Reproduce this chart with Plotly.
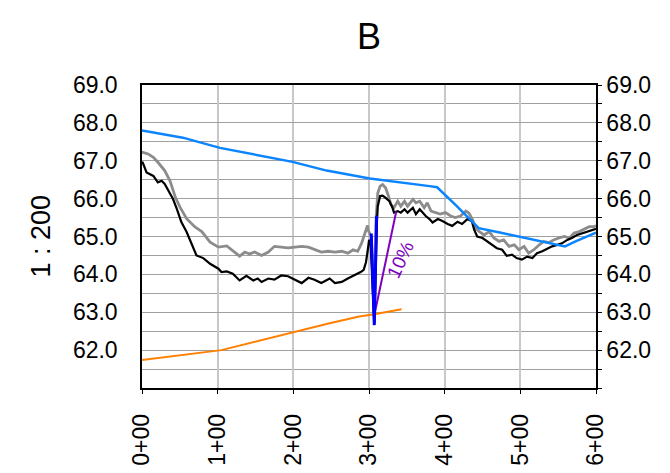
import plotly.graph_objects as go

# Stations (x) and elevations (y)
black_x = [0, 1, 6, 15, 21, 26, 30, 37, 41, 46, 52, 59, 66, 72, 81, 90, 101, 105, 112, 120,
           129, 138, 147, 153, 158, 167, 175, 184, 193, 202, 211, 220, 228, 237, 248, 255,
           264, 272, 281, 289, 293, 296, 298, 300, 302, 307, 310.5, 311.6, 314.7, 318, 322,
           327, 331, 333, 338, 342, 347, 351, 358, 362, 367, 371, 375, 380, 384, 391, 397,
           404, 410, 417, 423, 430, 436, 439, 443, 450, 456, 463, 469, 476, 482, 489, 495,
           502, 509, 516, 522, 529, 536, 542, 549, 555, 562, 568, 575, 582, 588, 597, 600]
black_y = [66.97, 66.95, 66.69, 66.60, 66.43, 66.47, 66.39, 66.12, 65.99, 65.73, 65.38, 65.12,
           64.76, 64.50, 64.43, 64.28, 64.15, 64.06, 64.08, 64.02, 63.84, 63.96, 63.84, 63.89,
           63.80, 63.89, 63.86, 63.97, 63.95, 63.86, 63.77, 63.91, 63.86, 63.77, 63.89, 63.77,
           63.80, 63.89, 63.97, 64.06, 64.12, 64.32, 64.59, 64.89, 64.90, 62.70, 65.40, 65.80,
           66.07, 66.08, 66.02, 65.93, 65.76, 65.63, 65.67, 65.63, 65.72, 65.63, 65.76, 65.59,
           65.72, 65.63, 65.54, 65.46, 65.37, 65.46, 65.41, 65.33, 65.28, 65.39, 65.33, 65.46,
           65.40, 65.18, 65.00, 64.96, 64.87, 64.78, 64.69, 64.65, 64.49, 64.52, 64.43, 64.39,
           64.47, 64.43, 64.56, 64.61, 64.69, 64.74, 64.78, 64.82, 64.91, 64.96, 65.04, 65.09,
           65.13, 65.18, 65.20]

gray_x = [0, 1, 8, 15, 21, 30, 37, 44, 50, 59, 70, 79, 90, 101, 112, 120, 129, 136, 142, 149,
          155, 158, 167, 175, 184, 193, 202, 211, 220, 228, 237, 246, 255, 264, 272, 279, 285,
          290, 294, 298, 299, 303, 307, 309.5, 311.6, 314.7, 318, 322, 325, 329, 333, 338,
          342, 347, 351, 358, 362, 367, 373, 377, 382, 388, 394, 401, 408, 414, 421, 428,
          432, 437, 441, 446, 452, 459, 465, 472, 478, 485, 492, 498, 505, 511, 518, 525,
          531, 538, 544, 551, 558, 565, 571, 578, 584, 591, 597, 600]
gray_y = [67.20, 67.22, 67.18, 67.09, 66.96, 66.74, 66.47, 66.04, 65.78, 65.47, 65.25, 65.13,
          64.85, 64.72, 64.75, 64.63, 64.48, 64.59, 64.54, 64.59, 64.54, 64.50, 64.59, 64.74,
          64.72, 64.70, 64.72, 64.74, 64.72, 64.65, 64.59, 64.61, 64.59, 64.61, 64.56, 64.65,
          64.61, 64.81, 65.07, 65.29, 65.16, 65.00, 62.80, 65.54, 66.15, 66.33, 66.37, 66.28,
          66.11, 65.85, 65.76, 65.93, 65.80, 65.93, 65.80, 65.98, 65.89, 65.93, 65.76, 65.89,
          65.67, 65.63, 65.59, 65.63, 65.54, 65.50, 65.54, 65.67, 65.62, 65.44, 65.22, 65.13,
          65.04, 65.13, 64.96, 64.87, 64.91, 64.74, 64.78, 64.65, 64.74, 64.56, 64.65, 64.78,
          64.87, 64.84, 64.91, 64.96, 65.00, 64.96, 65.09, 65.13, 65.18, 65.26, 65.26, 65.28]

design_x = [0, 54, 103, 199, 244, 301, 380, 390, 415, 432, 445, 476, 520, 559, 573, 600]
design_y = [67.80, 67.61, 67.34, 66.97, 66.74, 66.53, 66.33, 66.30, 65.82, 65.48, 65.22,
            65.09, 64.91, 64.74, 64.87, 65.10]

orange_x = [0, 105, 248, 287, 307, 343]
orange_y = [61.74, 62.00, 62.71, 62.89, 62.95, 63.08]

dip_x = [303, 307, 310]
dip_y = [65.08, 62.66, 65.55]

slope_x = [307, 336]
slope_y = [62.92, 65.66]
slope_label = "10%"

tick_vals = [0, 100, 200, 300, 400, 500, 600]
tick_text = ["0+00", "1+00", "2+00", "3+00", "4+00", "5+00", "6+00"]
y_tick_vals = [62, 63, 64, 65, 66, 67, 68, 69]
y_tick_text = ["62.0", "63.0", "64.0", "65.0", "66.0", "67.0", "68.0", "69.0"]

FONT = "Liberation Sans, Arial, sans-serif"

fig = go.Figure()
fig.add_trace(go.Scatter(x=gray_x, y=gray_y, mode="lines",
                         line=dict(color="#8C8C8C", width=2.8)))
fig.add_trace(go.Scatter(x=black_x, y=black_y, mode="lines",
                         line=dict(color="#000000", width=2.2)))
fig.add_trace(go.Scatter(x=orange_x, y=orange_y, mode="lines",
                         line=dict(color="#FF8000", width=2)))
fig.add_trace(go.Scatter(x=design_x, y=design_y, mode="lines",
                         line=dict(color="#0A84FF", width=2.5)))
fig.add_trace(go.Scatter(x=slope_x, y=slope_y, mode="lines",
                         line=dict(color="#7F00BF", width=2)))
fig.add_trace(go.Scatter(x=dip_x, y=dip_y, mode="lines",
                         line=dict(color="#0000FF", width=3)))
# invisible trace on the right axis to show it
fig.add_trace(go.Scatter(x=[0], y=[65], yaxis="y2", mode="markers",
                         marker=dict(opacity=0), hoverinfo="skip"))

fig.add_annotation(x=341.5, y=64.4, text=slope_label, showarrow=False, textangle=-65,
                   font=dict(family=FONT, size=19, color="#7F00BF"))
fig.add_annotation(x=(40 - 142) / 454, y=0.5, xref="paper", yref="paper", text="1 : 200",
                   showarrow=False, textangle=-90, xanchor="center", yanchor="middle",
                   font=dict(family=FONT, size=27, color="#000000"))

fig.update_layout(
    width=670, height=473,
    margin=dict(l=142, r=74, t=85, b=85, autoexpand=False),
    paper_bgcolor="white", plot_bgcolor="white",
    showlegend=False,
    title=dict(text="B", x=(142 + 454 / 2) / 670, xanchor="center", y=1 - 36 / 473,
               yanchor="middle", font=dict(family=FONT, size=36, color="#000000")),
    font=dict(family=FONT, size=23, color="#000000"),
    xaxis=dict(range=[0, 600], tickvals=tick_vals, ticktext=tick_text, tickangle=-90,
               showgrid=True, gridcolor="#C8C8C8", gridwidth=2, automargin=False,
               showline=True, linecolor="#000000", linewidth=1.5, mirror=True,
               ticks="outside", ticklen=4, tickcolor="#000000",
               ticklabelstandoff=11, zeroline=False),
    yaxis=dict(range=[61, 69], tickvals=y_tick_vals, ticktext=y_tick_text,
               showgrid=True, gridcolor="#A0A0A0", gridwidth=1, automargin=False,
               minor=dict(dtick=0.5, tick0=61, showgrid=True, gridcolor="#A0A0A0", gridwidth=1),
               showline=True, linecolor="#000000", linewidth=1.5, mirror=True,
               ticks="", ticklabelstandoff=18, zeroline=False),
    yaxis2=dict(range=[61, 69], tickvals=y_tick_vals, ticktext=y_tick_text, overlaying="y",
                side="right", showgrid=False, showline=True, linecolor="#000000",
                linewidth=1.5, ticks="outside", ticklen=4, tickcolor="#000000",
                automargin=False,
                minor=dict(dtick=0.5, tick0=61, ticks="outside", ticklen=4, tickcolor="#000000"),
                zeroline=False),
)

fig.write_html("out.html", config={"displayModeBar": False},
               post_script="document.body.style.margin='0';document.body.style.overflow='hidden';")
